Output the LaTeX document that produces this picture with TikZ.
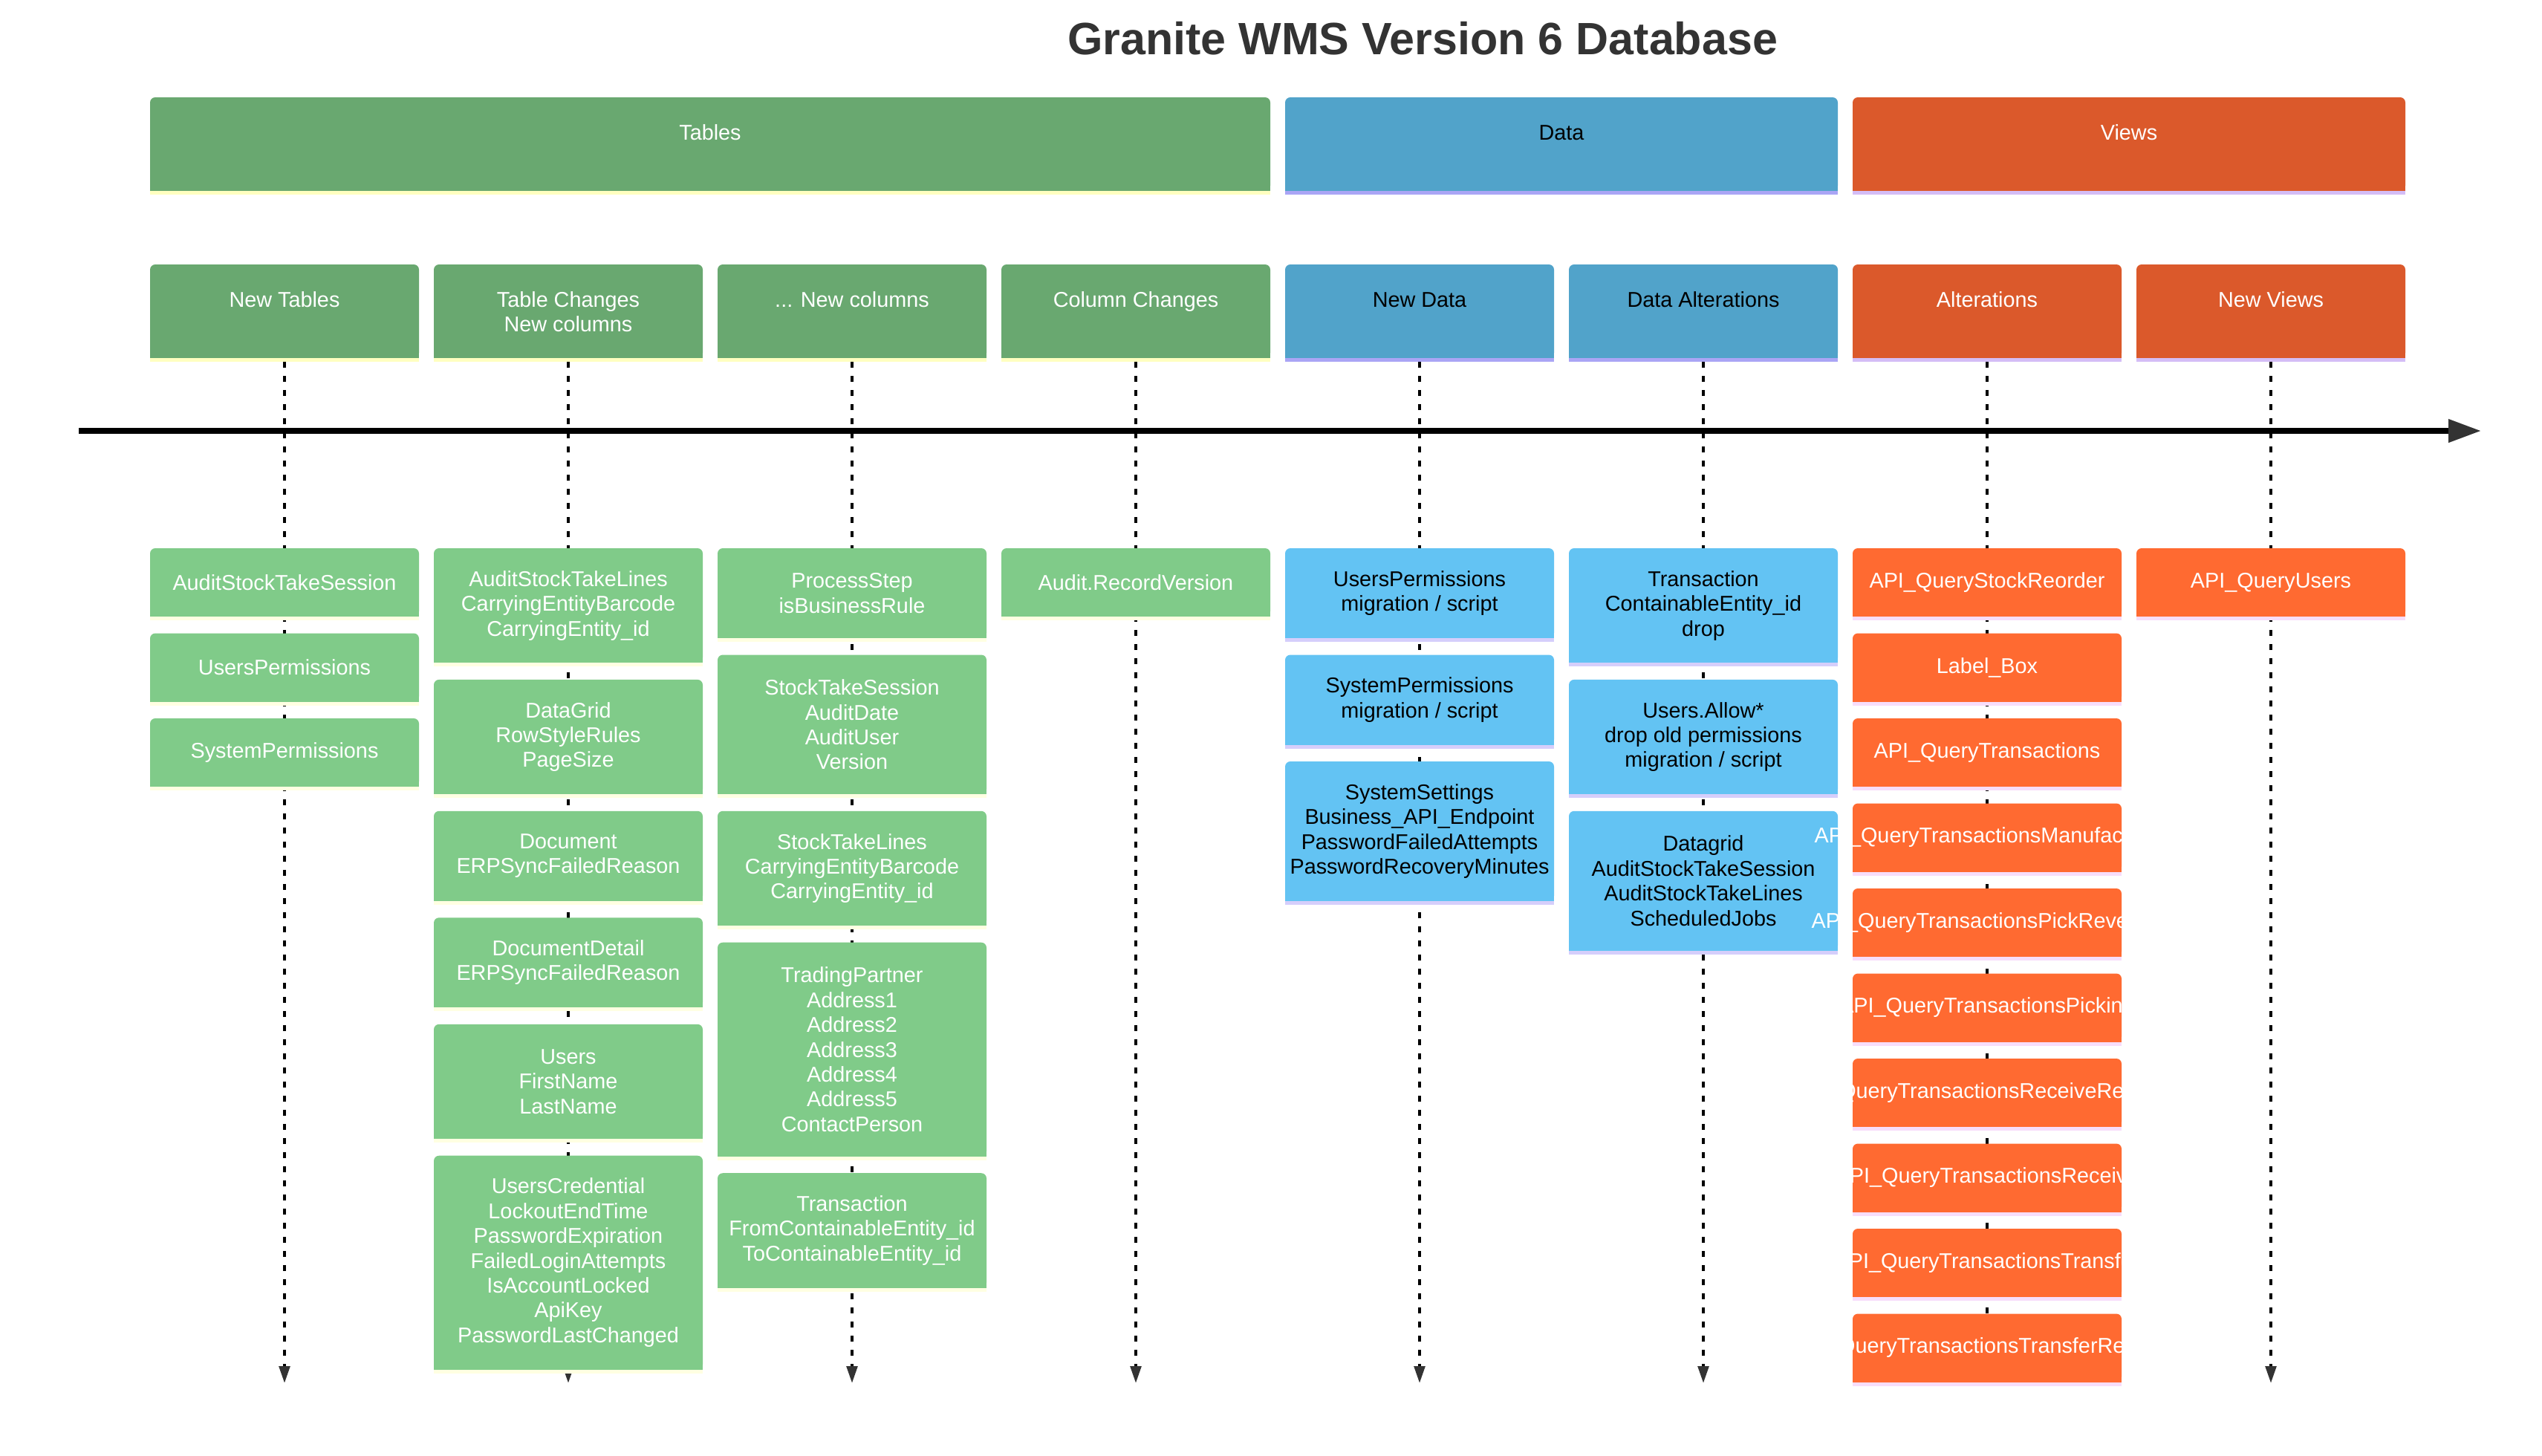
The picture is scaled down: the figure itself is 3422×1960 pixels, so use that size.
\documentclass[tikz,border=0pt]{standalone}
\usepackage{fontspec}
\setmainfont{Liberation Sans}
\usetikzlibrary{arrows.meta,backgrounds}

\definecolor{titlegrey}{HTML}{333333}
\definecolor{tabsec}{HTML}{69A870}
\definecolor{linetabsec}{HTML}{FFFFC0}
\definecolor{tabev}{HTML}{80CB89}
\definecolor{linetabev}{HTML}{FFFFE2}
\definecolor{datsec}{HTML}{51A3CA}
\definecolor{linedatsec}{HTML}{AAA5F5}
\definecolor{datev}{HTML}{63C3F3}
\definecolor{linedatev}{HTML}{D5CEFB}
\definecolor{vwsec}{HTML}{DB592B}
\definecolor{linevwsec}{HTML}{D4BDF6}
\definecolor{vwev}{HTML}{FF6A31}
\definecolor{linevwev}{HTML}{F7DDFB}

\tikzset{
  lbl/.style={font=\fontsize{28.8}{33.4}\selectfont, inner sep=0pt, outer sep=0pt, align=center},
  sec/.style={lbl, minimum width=362pt, text height=57pt, text depth=69pt},
  ev/.style={lbl, minimum width=362pt, anchor=north},
  tabtxt/.style={text=white},
  dattxt/.style={text=black},
  vwtxt/.style={text=white},
  lifeline/.style={line width=4pt, dash pattern=on 8pt off 11pt,
    -{Triangle[length=23pt,width=14.5pt,color=titlegrey]}},
  timeaxis/.style={line width=7.3pt, -{Triangle[length=44pt,width=30pt,color=titlegrey]}}
}

% box behind a node: rounded top, square bottom, stripe underneath
\newcommand{\paintbox}[3]{%
  \fill[#2, rounded corners=7pt] ([xshift=-#3pt]#1.north) rectangle ([xshift=#3pt]#1.south);
  \fill[#2] ([xshift=-#3pt,yshift=-10pt]#1.north) rectangle ([xshift=#3pt]#1.south);
  \fill[line#2] ([xshift=-#3pt]#1.south) rectangle ([xshift=#3pt,yshift=-5pt]#1.south);
}

\begin{document}
\begin{tikzpicture}[x=1pt,y=-1pt]
  \useasboundingbox (0,0) rectangle (3422,1960);
  \node[font=\bfseries\fontsize{61}{70}\selectfont, text=titlegrey, anchor=base] (title)
    at (1915,73) {Granite WMS Version 6 Database};

  % sections
  \node[sec, tabtxt, minimum width=1508pt] (tables) at (956,194) {Tables};
  \node[sec, dattxt, minimum width=744pt] (data) at (2102,194) {Data};
  \node[sec, vwtxt, minimum width=744pt] (views) at (2866,194) {Views};

  % periods
  \node[sec, tabtxt] (s1) at (383,419) {New Tables};
  \node[sec, tabtxt, text height=90.4pt, text depth=35.6pt] (s2) at (765,419) {Table Changes\\New columns};
  \node[sec, tabtxt] (s3) at (1147,419) {... New columns};
  \node[sec, tabtxt] (s4) at (1529,419) {Column Changes};
  \node[sec, dattxt] (s5) at (1911,419) {New Data};
  \node[sec, dattxt] (s6) at (2293,419) {Data Alterations};
  \node[sec, vwtxt] (s7) at (2675,419) {Alterations};
  \node[sec, vwtxt] (s8) at (3057,419) {New Views};

  % New Tables
  \node[ev, tabtxt, minimum height=92pt] (nt1) at (383,738) {AuditStockTakeSession};
  \node[ev, tabtxt, minimum height=92pt] (nt2) at (383,852.5) {UsersPermissions};
  \node[ev, tabtxt, minimum height=92pt] (nt3) at (383,967) {SystemPermissions};

  % Table Changes
  \node[ev, tabtxt, minimum height=154.4pt] (tc1) at (765,738) {AuditStockTakeLines\\CarryingEntityBarcode\\CarryingEntity\_id};
  \node[ev, tabtxt, minimum height=154.4pt] (tc2) at (765,914.9) {DataGrid\\RowStyleRules\\PageSize};
  \node[ev, tabtxt, minimum height=121pt] (tc3) at (765,1091.8) {Document\\ERPSyncFailedReason};
  \node[ev, tabtxt, minimum height=121pt] (tc4) at (765,1235.3) {DocumentDetail\\ERPSyncFailedReason};
  \node[ev, tabtxt, minimum height=154.4pt] (tc5) at (765,1378.8) {Users\\FirstName\\LastName};
  \node[ev, tabtxt, minimum height=288pt] (tc6) at (765,1555.7) {UsersCredential\\LockoutEndTime\\PasswordExpiration\\FailedLoginAttempts\\IsAccountLocked\\ApiKey\\PasswordLastChanged};

  % New columns
  \node[ev, tabtxt, minimum height=121pt] (nc1) at (1147,738) {ProcessStep\\isBusinessRule};
  \node[ev, tabtxt, minimum height=187.8pt] (nc2) at (1147,881.5) {StockTakeSession\\AuditDate\\AuditUser\\Version};
  \node[ev, tabtxt, minimum height=154.4pt] (nc3) at (1147,1091.8) {StockTakeLines\\CarryingEntityBarcode\\CarryingEntity\_id};
  \node[ev, tabtxt, minimum height=288pt] (nc4) at (1147,1268.7) {TradingPartner\\Address1\\Address2\\Address3\\Address4\\Address5\\ContactPerson};
  \node[ev, tabtxt, minimum height=154.4pt] (nc5) at (1147,1579.2) {Transaction\\FromContainableEntity\_id\\ToContainableEntity\_id};

  % Column Changes
  \node[ev, tabtxt, minimum height=92pt] (cc1) at (1529,738) {Audit.RecordVersion};

  % New Data
  \node[ev, dattxt, minimum height=121pt] (nd1) at (1911,738) {UsersPermissions\\migration / script};
  \node[ev, dattxt, minimum height=121pt] (nd2) at (1911,881.5) {SystemPermissions\\migration / script};
  \node[ev, dattxt, minimum height=187.8pt] (nd3) at (1911,1025) {SystemSettings\\Business\_API\_Endpoint\\PasswordFailedAttempts\\PasswordRecoveryMinutes};

  % Data Alterations
  \node[ev, dattxt, minimum height=154.4pt] (da1) at (2293,738) {Transaction\\ContainableEntity\_id\\drop};
  \node[ev, dattxt, minimum height=154.4pt] (da2) at (2293,914.9) {Users.Allow*\\drop old permissions\\migration / script};
  \node[ev, dattxt, minimum height=187.8pt] (da3) at (2293,1091.8) {Datagrid\\AuditStockTakeSession\\AuditStockTakeLines\\ScheduledJobs};

  % View Alterations
  \node[ev, vwtxt, minimum height=92pt] (va1) at (2675,738) {API\_QueryStockReorder};
  \node[ev, vwtxt, minimum height=92pt] (va2) at (2675,852.5) {Label\_Box};
  \node[ev, vwtxt, minimum height=92pt] (va3) at (2675,967) {API\_QueryTransactions};
  \node[ev, vwtxt, minimum height=92pt] (va4) at (2675,1081.5) {API\_QueryTransactionsManufacture};
  \node[ev, vwtxt, minimum height=92pt] (va5) at (2675,1196) {API\_QueryTransactionsPickReversal};
  \node[ev, vwtxt, minimum height=92pt] (va6) at (2675,1310.5) {API\_QueryTransactionsPicking};
  \node[ev, vwtxt, minimum height=92pt] (va7) at (2675,1425) {API\_QueryTransactionsReceiveReversal};
  \node[ev, vwtxt, minimum height=92pt] (va8) at (2675,1539.5) {API\_QueryTransactionsReceive};
  \node[ev, vwtxt, minimum height=92pt] (va9) at (2675,1654) {API\_QueryTransactionsTransfer};
  \node[ev, vwtxt, minimum height=92pt] (va10) at (2675,1768.5) {API\_QueryTransactionsTransferReversal};

  % New Views
  \node[ev, vwtxt, minimum height=92pt] (nv1) at (3057,738) {API\_QueryUsers};

  \begin{scope}[on background layer]
    \coordinate (t0) at (106,580);
    \coordinate (t1) at (3340,580);
    \foreach \i/\x in {1/383,2/765,3/1147,4/1529,5/1911,6/2293,7/2675,8/3057}
      \coordinate (e\i) at (\x,1862);
    \foreach \i in {1,...,8}
      \draw[lifeline] ([yshift=-5pt]s\i.south) -- (e\i);
    \draw[timeaxis] (t0) -- (t1);

    \paintbox{tables}{tabsec}{754}
    \paintbox{data}{datsec}{372}
    \paintbox{views}{vwsec}{372}
    \foreach \n in {s1,s2,s3,s4} {\paintbox{\n}{tabsec}{181}}
    \foreach \n in {s5,s6} {\paintbox{\n}{datsec}{181}}
    \foreach \n in {s7,s8} {\paintbox{\n}{vwsec}{181}}
    \foreach \n in {nt1,nt2,nt3,tc1,tc2,tc3,tc4,tc5,tc6,nc1,nc2,nc3,nc4,nc5,cc1}
      {\paintbox{\n}{tabev}{181}}
    \foreach \n in {nd1,nd2,nd3,da1,da2,da3} {\paintbox{\n}{datev}{181}}
    \foreach \n in {va1,va2,va3,va4,va5,va6,va7,va8,va9,va10,nv1} {\paintbox{\n}{vwev}{181}}
  \end{scope}
\end{tikzpicture}
\end{document}
